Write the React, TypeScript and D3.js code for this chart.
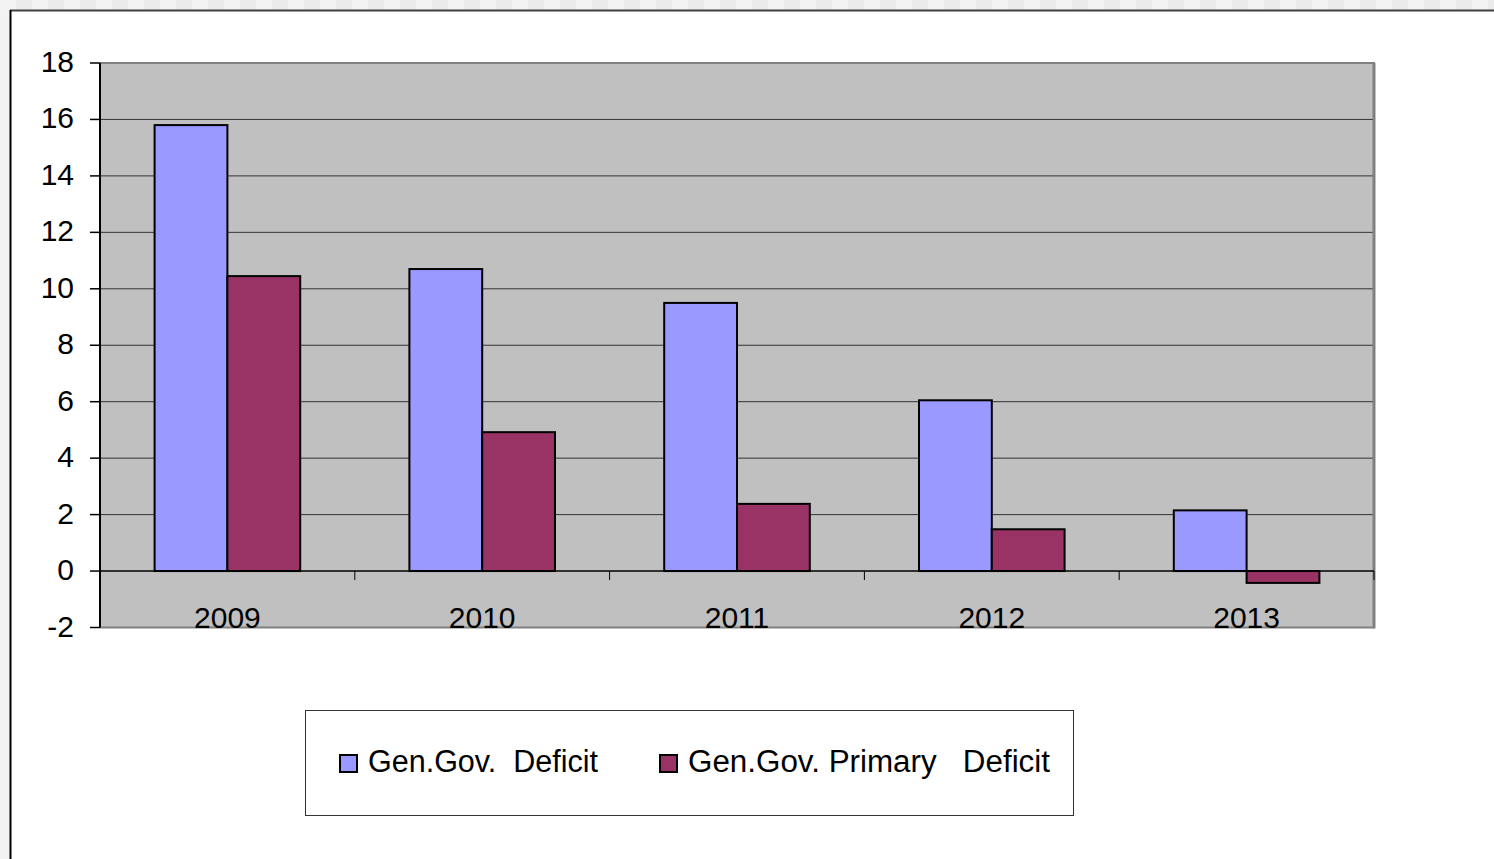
import React from "react";
import * as d3 from "d3";

const categories = ["2009", "2010", "2011", "2012", "2013"];
const seriesNames = ["Gen.Gov.  Deficit", "Gen.Gov. Primary   Deficit"];
const deficit = [15.8, 10.7, 9.5, 6.05, 2.15];
const primaryDeficit = [10.45, 4.92, 2.38, 1.48, -0.42];
const yTicks = [-2, 0, 2, 4, 6, 8, 10, 12, 14, 16, 18];
const colors = ["#9999ff", "#993366"];

const W = 1494;
const H = 859;
const plot = { left: 100, right: 1374, top: 63, bottom: 627.5 };
const FONT = "'Liberation Sans', Arial, sans-serif";

export default function App() {
  const x0 = d3.scaleBand<string>().domain(categories).range([plot.left, plot.right]).padding(0);
  const x1 = d3
    .scaleBand<number>()
    .domain([0, 1])
    .range([0, x0.bandwidth()])
    .paddingInner(0)
    .paddingOuter(0.75);
  const y = d3.scaleLinear().domain([-2, 18]).range([plot.bottom, plot.top]);
  const series = [deficit, primaryDeficit];
  const legendX = [340, 660];
  const legendW = [230, 362];

  return (
    <svg
      width={W}
      height={H}
      style={{ position: "fixed", left: 0, top: 0, background: "#f2f2f2" }}
    >
      <defs>
        <pattern id="chk" width="32" height="10" patternUnits="userSpaceOnUse">
          <rect x="0" y="0" width="16" height="10" fill="#f3f3f3" />
          <rect x="16" y="0" width="16" height="10" fill="#ebebeb" />
        </pattern>
      </defs>
      <rect x={0} y={0} width={W} height={10} fill="url(#chk)" />
      <rect x={11} y={11} width={W} height={H} fill="#ffffff" />
      <line x1={10} x2={W} y1={10.5} y2={10.5} stroke="#404040" strokeWidth={2} />
      <line x1={10.5} x2={10.5} y1={10} y2={H} stroke="#000" strokeWidth={2} />

      {/* plot background */}
      <rect
        x={plot.left}
        y={plot.top}
        width={plot.right - plot.left}
        height={plot.bottom - plot.top}
        fill="#c0c0c0"
      />
      {/* gridlines */}
      {yTicks.map((t) =>
        t === 18 || t === -2 || t === 0 ? null : (
          <line
            key={"g" + t}
            x1={plot.left}
            x2={plot.right}
            y1={y(t)}
            y2={y(t)}
            stroke="#333"
            strokeWidth={1}
          />
        )
      )}
      {/* plot border top / right / bottom */}
      <line x1={plot.left} x2={plot.right + 1} y1={y(18)} y2={y(18)} stroke="#808080" strokeWidth={2} />
      <line x1={plot.right} x2={plot.right} y1={plot.top} y2={plot.bottom + 1} stroke="#808080" strokeWidth={3} />
      <line x1={plot.left} x2={plot.right} y1={plot.bottom} y2={plot.bottom} stroke="#808080" strokeWidth={2} />

      {/* bars */}
      {categories.map((c, i) =>
        series.map((s, k) => {
          const v = s[i];
          const bx = (x0(c) as number) + (x1(k) as number);
          const top = y(Math.max(v, 0));
          const bot = y(Math.min(v, 0));
          return (
            <rect
              key={c + k}
              x={bx}
              y={top}
              width={x1.bandwidth()}
              height={bot - top}
              fill={colors[k]}
              stroke="#000"
              strokeWidth={2}
            />
          );
        })
      )}

      {/* zero axis */}
      <line x1={plot.left} x2={plot.right} y1={y(0)} y2={y(0)} stroke="#000" strokeWidth={1.5} />
      {categories.concat(["end"]).map((c, i) => {
        const xx = plot.left + i * x0.step();
        return <line key={"xt" + i} x1={xx} x2={xx} y1={y(0)} y2={y(0) + 9} stroke="#000" strokeWidth={1} />;
      })}
      {/* y axis */}
      <line x1={plot.left} x2={plot.left} y1={plot.top} y2={plot.bottom} stroke="#000" strokeWidth={2} />
      {yTicks.map((t) => (
        <g key={"yt" + t}>
          <line x1={plot.left - 10} x2={plot.left} y1={y(t)} y2={y(t)} stroke="#000" strokeWidth={1.5} />
          <text
            x={74}
            y={y(t) + 9}
            textAnchor="end"
            fontFamily={FONT}
            fontSize={30}
            fill="#000"
          >
            {t}
          </text>
        </g>
      ))}
      {/* category labels */}
      {categories.map((c) => (
        <text
          key={"cl" + c}
          x={(x0(c) as number) + x0.bandwidth() / 2}
          y={628}
          textAnchor="middle"
          fontFamily={FONT}
          fontSize={30}
          fill="#000"
        >
          {c}
        </text>
      ))}

      {/* legend */}
      <rect x={305.5} y={710.5} width={768} height={105} fill="#fff" stroke="#333" strokeWidth={1} />
      {seriesNames.map((n, k) => (
        <g key={"lg" + k}>
          <rect x={legendX[k]} y={755} width={17} height={17} fill={colors[k]} stroke="#000" strokeWidth={2} />
          <text
            x={legendX[k] + 28}
            y={772}
            fontFamily={FONT}
            fontSize={31}
            fill="#000"
            textLength={legendW[k]}
            lengthAdjust="spacingAndGlyphs"
            style={{ whiteSpace: "pre" }}
          >
            {n}
          </text>
        </g>
      ))}
    </svg>
  );
}
